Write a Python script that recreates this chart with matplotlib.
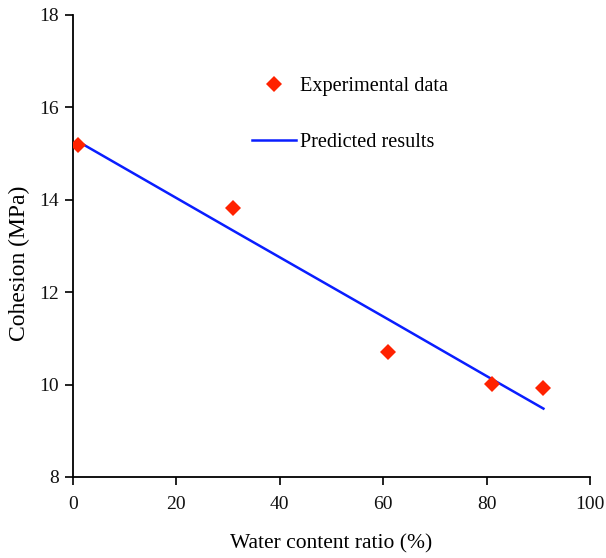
import numpy as np
import matplotlib
matplotlib.use("Agg")
import matplotlib.pyplot as plt

# water content ratio (%)
water = [1, 31, 61, 81, 91]
# measured cohesion (MPa)
cohesion_exp = [15.18, 13.83, 10.70, 10.02, 9.92]
# model prediction at the same water contents
cohesion_pred = [15.26, 13.33, 11.41, 10.12, 9.48]

xticks = [0, 20, 40, 60, 80, 100]
yticks = [8, 10, 12, 14, 16, 18]

plt.rcParams['font.family'] = ['Liberation Serif', 'DejaVu Serif']

fig = plt.figure(figsize=(6.06, 5.58), dpi=100)
ax = fig.add_axes([0.1205, 0.1452, 0.853, 0.828])

ax.plot(water, cohesion_pred, color='#0a1eff', linewidth=1.8, label='Predicted results', zorder=2)
ax.plot(water, cohesion_exp, linestyle='none', marker='D', markersize=8, color='#ff2200',
        markeredgewidth=0, label='Experimental data', zorder=3)

ax.set_xlim(0, 100)
ax.set_ylim(8, 18)
ax.set_xticks(xticks)
ax.set_yticks(yticks)
ax.spines['top'].set_visible(False)
ax.spines['right'].set_visible(False)
ax.spines['left'].set_linewidth(1.3)
ax.spines['bottom'].set_linewidth(1.3)
ax.tick_params(direction='out', length=6, width=1.3, labelsize=14, colors='#111111')
ax.tick_params(axis='x', pad=8)
ax.tick_params(axis='y', pad=4)

ax.set_xlabel('Water content ratio (%)', fontsize=15.5, labelpad=15)
ax.set_ylabel('Cohesion (MPa)', fontsize=17)
ax.yaxis.set_label_coords(-0.083, 0.463)

handles, labels = ax.get_legend_handles_labels()
ax.legend(handles[::-1], labels[::-1], loc='upper left', bbox_to_anchor=(0.346, 0.866),
          frameon=False, fontsize=14.6, handlelength=2.17, handletextpad=0.2,
          labelspacing=1.83, borderpad=0, borderaxespad=0, numpoints=1)

fig.savefig("out.png", dpi=100)
plt.close(fig)
